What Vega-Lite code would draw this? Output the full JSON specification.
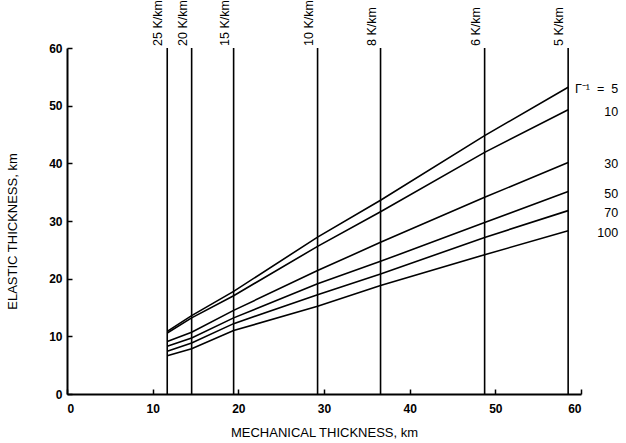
{
  "$schema": "https://vega.github.io/schema/vega-lite/v6.json",
  "autosize": "none",
  "width": 514,
  "height": 346,
  "padding": {"left": 67, "top": 48, "right": 45, "bottom": 49},
  "background": "white",
  "config": {
    "view": {"stroke": null},
    "font": "Liberation Sans",
    "axis": {
      "grid": false,
      "domainColor": "black",
      "domainWidth": 2,
      "tickColor": "black",
      "tickWidth": 1.5,
      "tickSize": -5,
      "labelColor": "black",
      "labelFontSize": 12,
      "labelFontWeight": "bold",
      "labelFont": "Liberation Sans",
      "titleColor": "black",
      "titleFont": "Liberation Sans",
      "titleFontSize": 13,
      "titleFontWeight": "normal"
    }
  },
  "datasets": {
    "curves": [
      {"gamma": "5", "mt": 11.7, "et": 10.85}, {"gamma": "5", "mt": 14.55, "et": 13.6}, {"gamma": "5", "mt": 19.45, "et": 17.8}, {"gamma": "5", "mt": 29.25, "et": 27.2}, {"gamma": "5", "mt": 36.6, "et": 33.6}, {"gamma": "5", "mt": 48.75, "et": 44.8}, {"gamma": "5", "mt": 58.5, "et": 53.2},
      {"gamma": "10", "mt": 11.7, "et": 10.57}, {"gamma": "10", "mt": 14.55, "et": 13.2}, {"gamma": "10", "mt": 19.45, "et": 17.05}, {"gamma": "10", "mt": 29.25, "et": 25.6}, {"gamma": "10", "mt": 36.6, "et": 31.6}, {"gamma": "10", "mt": 48.75, "et": 41.9}, {"gamma": "10", "mt": 58.5, "et": 49.3},
      {"gamma": "30", "mt": 11.7, "et": 9.1}, {"gamma": "30", "mt": 14.55, "et": 10.7}, {"gamma": "30", "mt": 19.45, "et": 14.5}, {"gamma": "30", "mt": 29.25, "et": 21.4}, {"gamma": "30", "mt": 36.6, "et": 26.3}, {"gamma": "30", "mt": 48.75, "et": 34.1}, {"gamma": "30", "mt": 58.5, "et": 40.15},
      {"gamma": "50", "mt": 11.7, "et": 8.26}, {"gamma": "50", "mt": 14.55, "et": 9.7}, {"gamma": "50", "mt": 19.45, "et": 13.2}, {"gamma": "50", "mt": 29.25, "et": 19.1}, {"gamma": "50", "mt": 36.6, "et": 23.0}, {"gamma": "50", "mt": 48.75, "et": 29.75}, {"gamma": "50", "mt": 58.5, "et": 35.1},
      {"gamma": "70", "mt": 11.7, "et": 7.4}, {"gamma": "70", "mt": 14.55, "et": 8.85}, {"gamma": "70", "mt": 19.45, "et": 12.2}, {"gamma": "70", "mt": 29.25, "et": 17.2}, {"gamma": "70", "mt": 36.6, "et": 20.8}, {"gamma": "70", "mt": 48.75, "et": 27.15}, {"gamma": "70", "mt": 58.5, "et": 31.8},
      {"gamma": "100", "mt": 11.7, "et": 6.64}, {"gamma": "100", "mt": 14.55, "et": 7.85}, {"gamma": "100", "mt": 19.45, "et": 11.0}, {"gamma": "100", "mt": 29.25, "et": 15.2}, {"gamma": "100", "mt": 36.6, "et": 18.8}, {"gamma": "100", "mt": 48.75, "et": 24.15}, {"gamma": "100", "mt": 58.5, "et": 28.3}
    ],
    "gradients": [
      {"label": "25 K/km", "mt": 11.7, "lo": 0, "hi": 60},
      {"label": "20 K/km", "mt": 14.55, "lo": 0, "hi": 60},
      {"label": "15 K/km", "mt": 19.45, "lo": 0, "hi": 60},
      {"label": "10 K/km", "mt": 29.25, "lo": 0, "hi": 60},
      {"label": "8 K/km", "mt": 36.6, "lo": 0, "hi": 60},
      {"label": "6 K/km", "mt": 48.75, "lo": 0, "hi": 60},
      {"label": "5 K/km", "mt": 58.5, "lo": 0, "hi": 60}
    ],
    "curvelabels": [
      {"label": "Γ⁻¹\u00a0\u00a0=\u00a0\u00a05", "mt": 58.5, "et": 53.2},
      {"label": "10", "mt": 58.5, "et": 49.3},
      {"label": "30", "mt": 58.5, "et": 40.15},
      {"label": "50", "mt": 58.5, "et": 35.1},
      {"label": "70", "mt": 58.5, "et": 31.8},
      {"label": "100", "mt": 58.5, "et": 28.3}
    ]
  },
  "layer": [
    {
      "data": {"name": "curves"},
      "mark": {"type": "line", "color": "black", "strokeWidth": 1.6},
      "encoding": {
        "x": {
          "field": "mt", "type": "quantitative",
          "scale": {"domain": [0, 60], "nice": false, "zero": false},
          "axis": {"values": [0, 10, 20, 30, 40, 50, 60], "title": "MECHANICAL THICKNESS, km", "labelPadding": 14, "titlePadding": 12}
        },
        "y": {
          "field": "et", "type": "quantitative",
          "scale": {"domain": [0, 60], "nice": false, "zero": false},
          "axis": {"values": [0, 10, 20, 30, 40, 50, 60], "title": "ELASTIC THICKNESS, km", "labelPadding": 10, "titleX": -48, "titleY": 183}
        },
        "detail": {"field": "gamma"}
      }
    },
    {
      "data": {"name": "gradients"},
      "mark": {"type": "rule", "color": "black", "strokeWidth": 1.6},
      "encoding": {
        "x": {"field": "mt", "type": "quantitative"},
        "y": {"field": "lo", "type": "quantitative"},
        "y2": {"field": "hi"}
      }
    },
    {
      "data": {"name": "gradients"},
      "mark": {"type": "text", "angle": 270, "align": "left", "baseline": "bottom", "dx": 2, "dy": -2, "fontSize": 12.5, "color": "black"},
      "encoding": {
        "x": {"field": "mt", "type": "quantitative"},
        "y": {"field": "hi", "type": "quantitative"},
        "text": {"field": "label"}
      }
    },
    {
      "data": {"name": "curvelabels"},
      "mark": {"type": "text", "align": "right", "baseline": "middle", "dx": 50, "dy": 2, "fontSize": 12.5, "color": "black"},
      "encoding": {
        "x": {"field": "mt", "type": "quantitative"},
        "y": {"field": "et", "type": "quantitative"},
        "text": {"field": "label"}
      }
    }
  ]
}
